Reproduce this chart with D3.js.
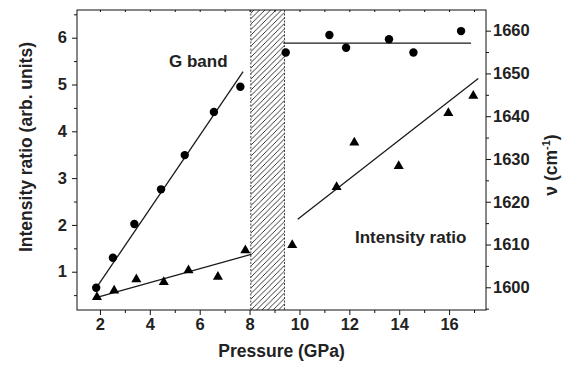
<!DOCTYPE html>
<html>
<head>
<meta charset="utf-8">
<script src="https://cdn.jsdelivr.net/npm/d3@7"></script>
<style>
  body { margin: 0; background: #fff; }
  #chart text { font-family: "Liberation Sans", Arial, sans-serif; font-weight: bold; fill: #222; }
</style>
</head>
<body>
<div id="chart"></div>
<script>
/*
 *  DATA
 */
var circlePressure = [1.85, 2.52, 3.38, 4.45, 5.40, 6.57, 7.63, 9.45, 11.20, 11.87, 13.59, 14.57, 16.48];
var circleShift = [1599.9, 1606.9, 1614.8, 1622.9, 1630.9, 1641.0, 1646.9, 1654.9, 1659.0, 1656.0, 1658.0, 1654.9, 1659.9];

var trianglePressure = [1.88, 2.57, 3.46, 4.56, 5.55, 6.73, 7.83, 9.71, 11.49, 12.20, 13.98, 15.97, 16.97];
var triangleRatio = [0.48, 0.62, 0.86, 0.80, 1.05, 0.91, 1.48, 1.59, 2.83, 3.78, 3.28, 4.41, 4.78];

// straight fits, [pressure, value] end points
var gBandFitLow = [[1.88, 1600.1], [7.74, 1650.4]];
var gBandFitHigh = [[9.35, 1657.1], [16.88, 1657.1]];
var ratioFitLow = [[1.88, 0.45], [8.06, 1.37]];
var ratioFitHigh = [[9.93, 2.12], [17.17, 5.13]];

var transitionRange = [8.05, 9.4];

var xTicks = [2, 4, 6, 8, 10, 12, 14, 16];
var xMinorTicks = [3, 5, 7, 9, 11, 13, 15, 17];
var leftTicks = [1, 2, 3, 4, 5, 6];
var leftMinorTicks = [0.5, 1.5, 2.5, 3.5, 4.5, 5.5, 6.5];
var rightTicks = [1600, 1610, 1620, 1630, 1640, 1650, 1660];
var rightMinorTicks = [1595, 1605, 1615, 1625, 1635, 1645, 1655];

/*
 *  LAYOUT
 */
var W = 567, H = 365;
var plot = {left: 77, right: 486, top: 10, bottom: 310};

var x_scale = d3.scaleLinear().domain([1.08, 17.48]).range([plot.left, plot.right]);
var yL_scale = d3.scaleLinear().domain([0.182, 6.592]).range([plot.bottom, plot.top]);
var yR_scale = d3.scaleLinear().domain([1594.69, 1664.83]).range([plot.bottom, plot.top]);

var svg = d3.select('#chart')
    .append('svg')
        .attr('width', W)
        .attr('height', H);

// hatch pattern for the transition region
var defs = svg.append('defs');
defs.append('pattern')
    .attr('id', 'hatch')
    .attr('patternUnits', 'userSpaceOnUse')
    .attr('width', 5.5)
    .attr('height', 5.5)
    .append('path')
        .attr('d', 'M0,5.5 L5.5,0 M-1,1 L1,-1 M4.5,6.5 L6.5,4.5')
        .attr('stroke', '#222')
        .attr('stroke-width', 0.9);

svg.append('rect')
    .attr('x', x_scale(transitionRange[0]))
    .attr('y', plot.top)
    .attr('width', x_scale(transitionRange[1]) - x_scale(transitionRange[0]))
    .attr('height', plot.bottom - plot.top)
    .attr('fill', 'url(#hatch)');

transitionRange.forEach(function(p) {
    svg.append('line')
        .attr('x1', x_scale(p)).attr('x2', x_scale(p))
        .attr('y1', plot.top).attr('y2', plot.bottom)
        .attr('stroke', '#444')
        .attr('stroke-width', 1)
        .style('stroke-dasharray', '2,1.5');
});

/*
 *  AXES
 */
svg.append('g')
    .attr('transform', 'translate(0,' + plot.bottom + ')')
    .call(d3.axisBottom(x_scale).tickValues(xTicks).tickSize(5).tickFormat(d3.format('d')));
svg.append('g')
    .attr('transform', 'translate(0,' + plot.bottom + ')')
    .call(d3.axisBottom(x_scale).tickValues(xMinorTicks).tickSize(3).tickFormat(''));
svg.append('g')
    .attr('transform', 'translate(0,' + plot.top + ')')
    .call(d3.axisBottom(x_scale).tickValues(xTicks.concat(xMinorTicks)).tickSize(2).tickFormat(''));

svg.append('g')
    .attr('transform', 'translate(' + plot.left + ',0)')
    .call(d3.axisLeft(yL_scale).tickValues(leftTicks).tickSize(5).tickPadding(5).tickFormat(d3.format('d')));
svg.append('g')
    .attr('transform', 'translate(' + plot.left + ',0)')
    .call(d3.axisLeft(yL_scale).tickValues(leftMinorTicks).tickSize(3).tickFormat(''));

svg.append('g')
    .attr('transform', 'translate(' + plot.right + ',0)')
    .call(d3.axisRight(yR_scale).tickValues(rightTicks).tickSize(5).tickPadding(2).tickFormat(d3.format('d')));
svg.append('g')
    .attr('transform', 'translate(' + plot.right + ',0)')
    .call(d3.axisRight(yR_scale).tickValues(rightMinorTicks).tickSize(3).tickFormat(''));

svg.selectAll('.domain').remove();
svg.selectAll('.tick line').attr('stroke', '#111');
svg.selectAll('.tick text')
    .style('font-size', '16.5px');

svg.append('rect')
    .attr('x', plot.left)
    .attr('y', plot.top)
    .attr('width', plot.right - plot.left)
    .attr('height', plot.bottom - plot.top)
    .attr('fill', 'none')
    .attr('stroke', '#111')
    .attr('stroke-width', 1);

/*
 *  FIT LINES
 */
var lineL = d3.line()
    .x(function(d) { return x_scale(d[0]); })
    .y(function(d) { return yL_scale(d[1]); });
var lineR = d3.line()
    .x(function(d) { return x_scale(d[0]); })
    .y(function(d) { return yR_scale(d[1]); });

[gBandFitLow, gBandFitHigh].forEach(function(f) {
    svg.append('path').datum(f)
        .attr('fill', 'none').attr('stroke', '#1a1a1a').attr('stroke-width', 1.3)
        .attr('d', lineR);
});
[ratioFitLow, ratioFitHigh].forEach(function(f) {
    svg.append('path').datum(f)
        .attr('fill', 'none').attr('stroke', '#1a1a1a').attr('stroke-width', 1.3)
        .attr('d', lineL);
});

/*
 *  POINTS
 */
var circles = circlePressure.map(function(p, i) { return {p: p, v: circleShift[i]}; });
var triangles = trianglePressure.map(function(p, i) { return {p: p, v: triangleRatio[i]}; });

svg.selectAll('.dot')
    .data(circles)
    .enter()
    .append('circle')
    .attr('class', 'dot')
    .attr('cx', function(d) { return x_scale(d.p); })
    .attr('cy', function(d) { return yR_scale(d.v); })
    .attr('r', 4.2)
    .attr('fill', '#000');

svg.selectAll('.tri')
    .data(triangles)
    .enter()
    .append('path')
    .attr('class', 'tri')
    .attr('d', d3.symbol().type(d3.symbolTriangle).size(44))
    .attr('transform', function(d) { return 'translate(' + x_scale(d.p) + ',' + (yL_scale(d.v) + 1) + ')'; })
    .attr('fill', '#000');

/*
 *  LABELS
 */
svg.append('text')
    .attr('x', (plot.left + plot.right) / 2 + 0)
    .attr('y', 357)
    .attr('text-anchor', 'middle')
    .style('font-size', '17.5px')
    .text('Pressure (GPa)');

svg.append('text')
    .attr('transform', 'translate(32,147)rotate(-90)')
    .attr('text-anchor', 'middle')
    .style('font-size', '17.5px')
    .text('Intensity ratio (arb. units)');

var rTitle = svg.append('text')
    .attr('transform', 'translate(557,165)rotate(-90)')
    .attr('text-anchor', 'middle')
    .style('font-size', '17.5px');
rTitle.append('tspan').text('ν (cm');
rTitle.append('tspan').attr('dy', -7).style('font-size', '11px').text('-1');
rTitle.append('tspan').attr('dy', 7).text(')');

svg.append('text')
    .attr('x', 169)
    .attr('y', 67)
    .style('font-size', '17px')
    .text('G band');

svg.append('text')
    .attr('x', 355)
    .attr('y', 243)
    .style('font-size', '17px')
    .text('Intensity ratio');
</script>
</body>
</html>
